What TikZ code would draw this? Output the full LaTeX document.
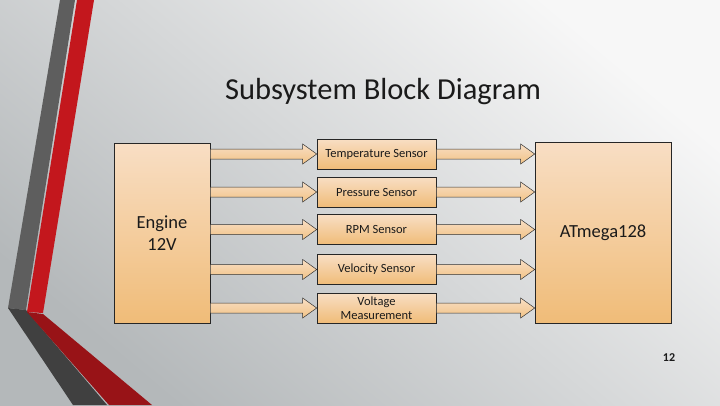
\documentclass[tikz,border=0pt]{standalone}
\usepackage{fontspec}
\setmainfont{Carlito}
\usetikzlibrary{calc}
\definecolor{bgtop}{HTML}{F7F7F7}
\definecolor{bgbot}{HTML}{B4B8BA}
\definecolor{graya}{HTML}{5E5E5E}
\definecolor{grayb}{HTML}{404040}
\definecolor{reda}{HTML}{C3171D}
\definecolor{redb}{HTML}{981317}
\definecolor{peachtop}{HTML}{F8DEC4}
\definecolor{peachbot}{HTML}{F0BC78}
\definecolor{txt}{HTML}{1A1A1A}
\newcommand\fatarrow[2]{%
  \draw[farrow] let \p1=(#1), \p2=(#2) in
    (\x1,\y1+5pt) -- (\x2-14pt,\y1+5pt) -- (\x2-14pt,\y1+10pt) -- (\x2,\y1)
    -- (\x2-14pt,\y1-10pt) -- (\x2-14pt,\y1-5pt) -- (\x1,\y1-5pt) -- cycle;}
\begin{document}
\begin{tikzpicture}[x=1pt,y=-1pt,
  box/.style={draw=black!85, line width=0.6pt, top color=peachtop, bottom color=peachbot,
    text=txt, align=center, inner sep=0pt, font=\fontsize{12.5}{14}\selectfont},
  sensor/.style={box, minimum width=119pt, minimum height=30pt},
  bigbox/.style={box, font=\fontsize{18.5}{21.5}\selectfont},
  farrow/.style={draw=black!80, line width=0.5pt, top color=peachtop, bottom color=peachbot!90!white}]
\useasboundingbox (0,0) rectangle (720,405);
\shade[top color=bgtop, bottom color=bgbot, shading angle=-40] (0,0) rectangle (720,405);
% decorative stripes
\fill[graya] (60,0) -- (75,0) -- (26,310) -- (8,308) -- cycle;
\fill[reda] (77,0) -- (94,0) -- (43,313) -- (27,312) -- cycle;
\fill[grayb] (8,308) -- (26,310) -- (107,405) -- (73,405) -- cycle;
\fill[redb] (27,312) -- (43,314) -- (152,405) -- (109,405) -- cycle;
% title
\node[text=txt, font=\fontsize{30.5}{34}\selectfont] (title) at (383,92) {Subsystem Block Diagram};
% blocks
\node[bigbox, minimum width=96pt, minimum height=180pt] (eng) at (162,233) {Engine\\12V};
\node[bigbox, minimum width=136pt, minimum height=181pt] (atm) at (603,232.5) {ATmega128};
\node[sensor] (temp) at (376.5,154) {Temperature Sensor};
\node[sensor] (pres) at (376.5,192) {Pressure Sensor};
\node[sensor] (rpm) at (376.5,229.5) {RPM Sensor};
\node[sensor] (vel) at (376.5,269.5) {Velocity Sensor};
\node[sensor] (volt) at (376.5,308) {Voltage\\Measurement};
% arrows
\foreach \s in {temp,pres,rpm,vel,volt}{
  \fatarrow{eng.east |- \s.west}{\s.west}
  \fatarrow{\s.east}{atm.west |- \s.east}
}
\node[text=txt, font=\bfseries\fontsize{12}{14}\selectfont] (num) at (669,358) {12};
\end{tikzpicture}
\end{document}
